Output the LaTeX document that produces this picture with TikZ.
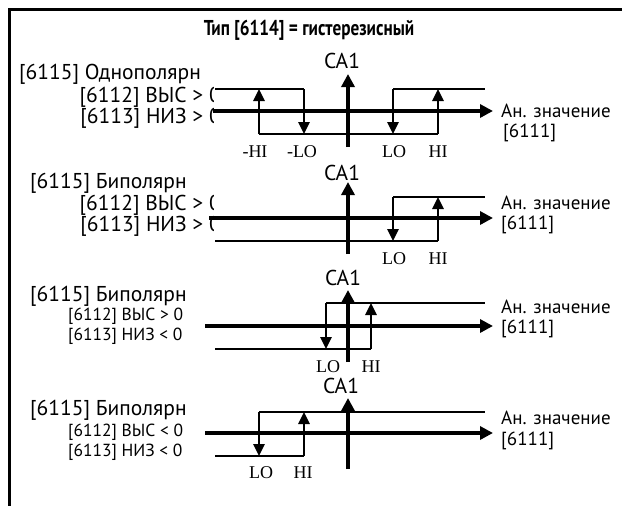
\documentclass[tikz,border=0pt]{standalone}
\usepackage{fontspec}
\setmainfont{Liberation Serif}
\setsansfont{PT Sans}
\newfontfamily\headfont{PT Sans}[FakeStretch=0.8]
\usetikzlibrary{arrows.meta}

\begin{document}
\begin{tikzpicture}[x=1pt, y=-1pt,
    axisline/.style={line width=4pt, -{Triangle[length=13pt, width=13pt]}},
    limitline/.style={line width=1.5pt},
    jump/.style={line width=2.5pt, -{Triangle[length=12pt, width=11pt]}},
    maintext/.style={font=\sffamily\fontsize{21.5}{16.5}\selectfont, inner sep=0pt},
    righttext/.style={font=\sffamily\fontsize{19}{19}\selectfont, inner sep=0pt},
    subtext/.style={font=\sffamily\fontsize{17.5}{20}\selectfont, inner sep=0pt},
    threshold/.style={font=\rmfamily\fontsize{18}{18}\selectfont, inner sep=0pt}]
  \useasboundingbox (0,0) rectangle (622,506);
  \draw[line width=3pt] (9,506) -- (9,9) -- (622,9);
  \node[font=\headfont\bfseries\fontsize{21.5}{21.5}\selectfont, inner sep=0pt] (title) at (309,30)
    {Тип [6114] = гистерезисный};

  % texts cut by the diagram
  \begin{scope}
    \clip (0,0) rectangle (213,506);
    \node[maintext, anchor=west] (mode1) at (19,74) {[6115] Однополярн};
    \node[maintext, anchor=east, align=right] (cond1) at (221,108)
      {[6112] ВЫС > 0\\{}[6113] НИЗ > 0};
    \node[maintext, anchor=west] (mode2) at (30,183) {[6115] Биполярн};
    \node[maintext, anchor=east, align=right] (cond2) at (221,216)
      {[6112] ВЫС > 0\\{}[6113] НИЗ > 0};
  \end{scope}
  \node[maintext, anchor=west] (mode3) at (30,296) {[6115] Биполярн};
  \node[subtext, anchor=west, align=left] (cond3) at (68,326)
    {[6112] ВЫС > 0\\{}[6113] НИЗ < 0};
  \node[maintext, anchor=west] (mode4) at (30,410) {[6115] Биполярн};
  \node[subtext, anchor=west, align=left] (cond4) at (68,442)
    {[6112] ВЫС < 0\\{}[6113] НИЗ < 0};

  % unipolar
  \begin{scope}[yshift=-111pt]
    \draw[limitline] (215,-22) -- (304,-22) (393,-22) -- (485,-22);
    \draw[limitline] (259,23) -- (438,23);
    \draw[jump] (259,23) -- (259,-22);
    \draw[jump] (304,-22) -- (304,23);
    \draw[jump] (393,-22) -- (393,23);
    \draw[jump] (438,23) -- (438,-22);
    \draw[axisline] (213,0) -- (493,0);
    \draw[axisline] (348,36) -- (348,-37);
    \node[maintext] (ca1) at (342,-50) {CA1};
    \node[righttext, anchor=west] (an1) at (501,0) {Ан. значение};
    \node[righttext, anchor=west] (val1) at (503,22) {[6111]};
    \node[threshold] at (255,41) {-HI};
    \node[threshold] at (302,41) {-LO};
    \node[threshold] at (394,41) {LO};
    \node[threshold] at (438,41) {HI};
  \end{scope}

  % bipolar, both limits above zero
  \begin{scope}[yshift=-218pt]
    \draw[limitline] (393,-21) -- (485,-21);
    \draw[limitline] (215,23) -- (438,23);
    \draw[jump] (393,-21) -- (393,23);
    \draw[jump] (438,23) -- (438,-21);
    \draw[axisline] (209,0) -- (493,0);
    \draw[axisline] (348,36) -- (348,-36);
    \node[maintext] (ca2) at (342,-45) {CA1};
    \node[righttext, anchor=west] (an2) at (501,-15) {Ан. значение};
    \node[righttext, anchor=west] (val2) at (501,7) {[6111]};
    \node[threshold] at (394,41) {LO};
    \node[threshold] at (438,41) {HI};
  \end{scope}

  % bipolar, low limit below zero
  \begin{scope}[yshift=-326pt]
    \draw[limitline] (326,-23) -- (485,-23);
    \draw[limitline] (215,23) -- (371,23);
    \draw[jump] (326,-23) -- (326,23);
    \draw[jump] (371,23) -- (371,-23);
    \draw[axisline] (205,0) -- (493,0);
    \draw[axisline] (348,36) -- (348,-36);
    \node[maintext] (ca3) at (343,-48) {CA1};
    \node[righttext, anchor=west] (an3) at (501,-19) {Ан. значение};
    \node[righttext, anchor=west] (val3) at (501,3) {[6111]};
    \node[threshold] at (328,41) {LO};
    \node[threshold] at (371,41) {HI};
  \end{scope}

  % bipolar, both limits below zero
  \begin{scope}[yshift=-433pt]
    \draw[limitline] (259,-21) -- (485,-21);
    \draw[limitline] (215,23) -- (304,23);
    \draw[jump] (259,-21) -- (259,23);
    \draw[jump] (304,23) -- (304,-21);
    \draw[axisline] (205,0) -- (493,0);
    \draw[axisline] (348,36) -- (348,-35);
    \node[maintext] (ca4) at (341,-47) {CA1};
    \node[righttext, anchor=west] (an4) at (501,-15) {Ан. значение};
    \node[righttext, anchor=west] (val4) at (501,8) {[6111]};
    \node[threshold] at (261,40) {LO};
    \node[threshold] at (303,40) {HI};
  \end{scope}
\end{tikzpicture}
\end{document}
